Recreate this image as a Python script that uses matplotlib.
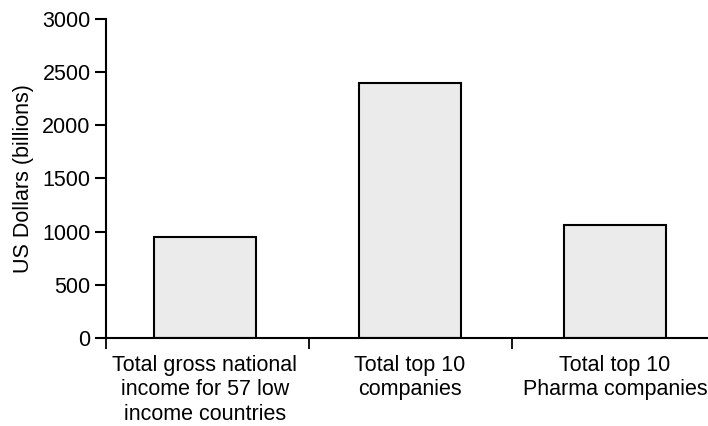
import matplotlib
matplotlib.use("Agg")
import matplotlib.pyplot as plt

# ── Data ───────────────────────────────────────────────────────────────────
categories = [
    "Total gross national\nincome for 57 low\nincome countries",
    "Total top 10\ncompanies",
    "Total top 10\nPharma companies",
]
values = [950, 2400, 1065]
yticks = [0, 500, 1000, 1500, 2000, 2500, 3000]

plt.rcParams["font.family"] = ["Liberation Sans", "DejaVu Sans"]
FS = 15.5

fig = plt.figure(figsize=(7.08, 4.26), dpi=100)
ax = fig.add_axes([0.1497, 0.2066, 0.8503, 0.7488])

x = list(range(len(categories)))
ax.bar(x, values, width=0.5, color="#ebebeb", edgecolor="black", linewidth=1.5)

ax.set_xlim(-0.483, 2.454)
ax.set_ylim(0, 3000)
ax.set_yticks(yticks)
ax.tick_params(axis="y", direction="out", length=8, width=1.5, pad=3, labelsize=FS)

ax.set_xticks(x)
ax.set_xticklabels(categories, fontsize=FS, linespacing=1.24)
ax.set_xticks([-0.483, 0.507, 1.498], minor=True)
ax.tick_params(axis="x", which="major", length=0, pad=12)
ax.tick_params(axis="x", which="minor", direction="out", length=8, width=1.3)

for side in ["top", "right"]:
    ax.spines[side].set_visible(False)
for side in ["left", "bottom"]:
    ax.spines[side].set_linewidth(1.5)

ax.set_ylabel("US Dollars (billions)", fontsize=FS, labelpad=6)

fig.savefig("out.png", dpi=100)
